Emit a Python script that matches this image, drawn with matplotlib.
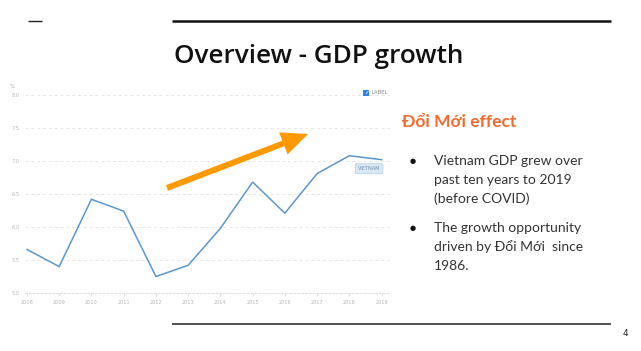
import matplotlib
matplotlib.use("Agg")
import matplotlib.pyplot as plt
from matplotlib.patches import FancyArrowPatch, Rectangle
from matplotlib.lines import Line2D

years = [2008, 2009, 2010, 2011, 2012, 2013, 2014, 2015, 2016, 2017, 2018, 2019]
gdp_growth = [5.66, 5.40, 6.42, 6.24, 5.25, 5.42, 5.98, 6.68, 6.21, 6.81, 7.08, 7.02]
y_ticks = [5.0, 5.5, 6.0, 6.5, 7.0, 7.5, 8.0]
series_label = "VIETNAM"

title = "Overview - GDP growth"
side_heading = "Đổi Mới effect"
bullets = [
    ["Vietnam GDP grew over", "past ten years to 2019", "(before COVID)"],
    ["The growth opportunity", "driven by Đổi Mới  since", "1986."],
]
page_no = "4"

W, H = 641, 351
fig = plt.figure(figsize=(W / 100, H / 100), dpi=100)
fig.patch.set_facecolor("white")

def fx(px):
    return px / W

def fy(py_top):
    return 1 - py_top / H

# ---- chart axes
ax = fig.add_axes([fx(25), fy(293), fx(390) - fx(25), fy(95) - fy(293)])
ax.plot(years, gdp_growth, color="#5b97cc", lw=1.1, solid_joinstyle="miter")
ax.set_xlim(2007.94, 2019.26)
ax.set_ylim(5.0, 8.0)
ax.set_yticks(y_ticks)
ax.set_yticklabels([f"{v:.1f}" for v in y_ticks])
ax.set_xticks(years)
ax.set_xticklabels([str(y) for y in years])
for v in y_ticks[1:]:
    ax.axhline(v, color="#e6e6e6", lw=0.7, ls=(0, (3, 3)), zorder=0)
for s in ["top", "right", "left"]:
    ax.spines[s].set_visible(False)
ax.spines["bottom"].set_color("#dddddd")
ax.spines["bottom"].set_linestyle((0, (2, 2)))
ax.spines["bottom"].set_linewidth(0.7)
ax.tick_params(axis="x", length=2, color="#dddddd", labelsize=3.6, labelcolor="#b5b5b5", pad=3)
ax.tick_params(axis="y", length=0, labelsize=3.6, labelcolor="#b5b5b5", pad=4)
ax.set_facecolor("none")

ax.annotate(series_label, xy=(years[-1], gdp_growth[-1]), xytext=(-9, -6.5),
            textcoords="offset points", ha="center", va="center",
            fontsize=3.6, color="#6d93b8",
            bbox=dict(boxstyle="round,pad=0.5,rounding_size=0.3", fc="#dbe8f5", ec="#b9d0e6", lw=0.6))

fig.text(fx(12), fy(87), "%", fontsize=3.6, color="#999999", ha="center", va="center")
fig.patches.append(Rectangle((fx(363.5), fy(96)), 6 / W, 6 / H,
                             transform=fig.transFigure, fc="#2f7fe8", ec="none"))
fig.text(fx(366.5), fy(93), "✓", fontsize=4, color="white", ha="center", va="center", fontweight="bold")
fig.text(fx(372), fy(93), "LABEL", fontsize=3.8, color="#888888", ha="left", va="center")

# ---- arrow
arr = FancyArrowPatch((fx(167), fy(188)), (fx(308), fy(134)), transform=fig.transFigure,
                      arrowstyle="simple,head_width=17,head_length=19,tail_width=4.3",
                      mutation_scale=1, color="#FF9900", shrinkA=0, shrinkB=0, lw=0)
fig.patches.append(arr)

# ---- slide decorations
fig.lines.append(Line2D([fx(28), fx(42)], [fy(20.7), fy(20.7)], transform=fig.transFigure, color="#222222", lw=1.0, solid_capstyle="butt"))
fig.lines.append(Line2D([fx(172), fx(611)], [fy(20.7), fy(20.7)], transform=fig.transFigure, color="#111111", lw=1.8, solid_capstyle="butt"))
fig.lines.append(Line2D([fx(172), fx(611)], [fy(324), fy(324)], transform=fig.transFigure, color="#333333", lw=1.2, solid_capstyle="butt"))

fig.text(fx(174), fy(63.3), title, fontsize=18.8, family="Open Sans", fontweight="semibold", color="#111111", ha="left", va="baseline")
fig.text(fx(625), fy(334), page_no, fontsize=6.5, color="#222222", ha="center", va="center")

fig.text(fx(402), fy(122), side_heading, fontsize=12.5, family="Lato", fontweight="bold", color="#F26B2D", ha="left", va="center")

line_y = [[161, 180, 199], [228, 247, 266]]
for blines, ys in zip(bullets, line_y):
    fig.text(fx(413), fy(ys[0]), "●", fontsize=5, color="#111111", ha="center", va="center")
    for t, yy in zip(blines, ys):
        fig.text(fx(434), fy(yy), t, fontsize=10, family="Lato", color="#333333", ha="left", va="center")

fig.savefig("out.png", dpi=100)
